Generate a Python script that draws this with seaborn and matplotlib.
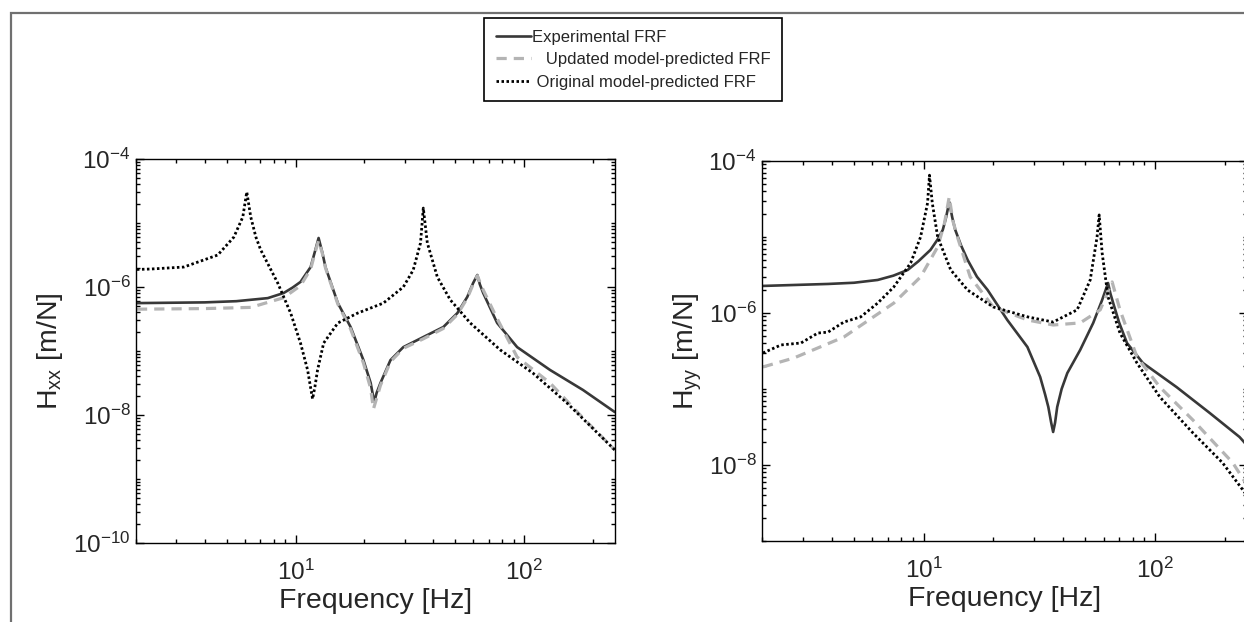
import numpy as np
import pandas as pd
import matplotlib
matplotlib.use("Agg")
import matplotlib.pyplot as plt
import seaborn as sns
from matplotlib.patches import Rectangle
from matplotlib.ticker import FixedLocator, LogLocator, NullFormatter

sns.set_style("ticks")
plt.rcParams['font.family'] = ['Liberation Sans', 'DejaVu Sans']
plt.rcParams['mathtext.default'] = 'regular'
plt.rcParams['axes.unicode_minus'] = False

## H_xx (left panel)
exp_x_f = [2.02, 4.0, 5.5, 7.55, 8.86, 9.7, 10.5, 11.63, 12.2, 12.6, 13.1, 13.5, 15.3, 17.4, 19.8, 21.3, 21.7,
           22.1, 22.6, 23.5, 26.0, 29.6, 36.2, 44.3, 51.0, 56.4, 59.8, 62.4, 64.0, 66.2, 76.2, 93.2, 129.9, 181,
           249.5]
exp_x_h = [5.6e-7, 5.75e-7, 6.0e-7, 6.7e-7, 8.05e-7, 9.8e-7, 1.2e-6, 2.05e-6, 3.8e-6, 5.83e-6, 3.4e-6, 2.05e-6,
           5.6e-7, 2.37e-7, 7.2e-8, 3.16e-8, 2.2e-8, 1.6e-8, 2.2e-8, 3.16e-8, 7.2e-8, 1.15e-7, 1.65e-7, 2.37e-7,
           3.9e-7, 7.0e-7, 1.15e-6, 1.54e-6, 1.1e-6, 8.05e-7, 2.74e-7, 1.15e-7, 5.05e-8, 2.46e-8, 1.11e-8]

upd_x_f = [2.02, 4.0, 6.36, 8.86, 10.5, 11.63, 12.2, 12.6, 13.1, 13.5, 15.3, 17.4, 19.8, 21.3, 21.9, 23.5, 26.0,
           29.6, 36.2, 44.3, 51.0, 56.4, 59.8, 62.4, 66.2, 76.2, 93.2, 129.9, 181, 249.5]
upd_x_h = [4.5e-7, 4.6e-7, 4.8e-7, 6.8e-7, 1.05e-6, 1.9e-6, 3.6e-6, 5.3e-6, 3.3e-6, 2.0e-6, 5.4e-7, 2.2e-7,
           6.5e-8, 2.6e-8, 1.24e-8, 2.9e-8, 6.8e-8, 1.1e-7, 1.55e-7, 2.25e-7, 3.7e-7, 6.7e-7, 1.1e-6, 1.5e-6,
           9.0e-7, 3.2e-7, 8.05e-8, 3.16e-8, 8.98e-9, 2.84e-9]

orig_x_f = [2.02, 2.33, 3.24, 4.56, 5.36, 5.6, 5.87, 6.11, 6.36, 6.7, 7.03, 8.35, 9.51, 10.5, 11.28, 11.6, 11.86,
            12.15, 12.47, 13.26, 15.3, 18.65, 24.2, 29.6, 32.7, 35.2, 36.2, 37.7, 41.7, 47.5, 58.1, 78.6, 109.4,
            154, 249.5]
orig_x_h = [1.88e-6, 1.91e-6, 2.05e-6, 3.16e-6, 6.0e-6, 8.5e-6, 1.24e-5, 3.05e-5, 1.24e-5, 6.0e-6, 3.8e-6,
            1.15e-6, 3.9e-7, 1.33e-7, 5.05e-8, 2.8e-8, 1.78e-8, 2.8e-8, 5.05e-8, 1.33e-7, 2.74e-7, 3.9e-7,
            5.6e-7, 1e-6, 1.84e-6, 4.87e-6, 1.71e-5, 4.87e-6, 1.43e-6, 6.3e-7, 2.74e-7, 1.04e-7, 4.5e-8,
            1.54e-8, 2.84e-9]

## H_yy (right panel)
exp_y_f = [2.02, 3.86, 5.0, 6.33, 7.4, 8.53, 9.5, 10.7, 11.5, 12.1, 12.5, 12.9, 13.3, 13.7, 14.5, 15.5, 17.0,
           18.9, 23.0, 28.1, 31.9, 33.5, 34.6, 35.6, 36.3, 37.0, 37.8, 39.5, 41.8, 47.5, 54.1, 59.1, 62.7, 64.2,
           66.0, 70.0, 75.7, 88.7, 124, 172.6, 232, 249.5]
exp_y_h = [2.27e-6, 2.41e-6, 2.5e-6, 2.72e-6, 3.1e-6, 3.68e-6, 4.8e-6, 6.75e-6, 9.3e-6, 1.24e-5, 1.8e-5, 2.88e-5,
           1.8e-5, 1.24e-5, 7.8e-6, 4.98e-6, 3.0e-6, 2.01e-6, 8.09e-7, 3.57e-7, 1.44e-7, 8.5e-8, 5.8e-8,
           3.6e-8, 2.72e-8, 3.6e-8, 5.8e-8, 1.0e-7, 1.62e-7, 3.26e-7, 7.4e-7, 1.48e-6, 2.48e-6, 1.8e-6,
           1.35e-6, 7.5e-7, 4.03e-7, 2.2e-7, 1.06e-7, 4.83e-8, 2.34e-8, 1.83e-8]

upd_y_f = [2.02, 2.75, 4.52, 7.43, 9.70, 11.5, 12.3, 12.9, 13.4, 14.0, 15.9, 20.0, 28.1, 36.3, 47.5, 58.0, 65.3,
           70.6, 83.6, 105, 146, 217, 249.5]
upd_y_h = [1.95e-7, 2.56e-7, 4.83e-7, 1.35e-6, 2.98e-6, 7.4e-6, 1.5e-5, 3.36e-5, 1.6e-5, 1e-5, 2.98e-6, 1.2e-6,
           8.1e-7, 6.95e-7, 7.4e-7, 1.1e-6, 2.56e-6, 1.1e-6, 2.64e-7, 1.06e-7, 3.9e-8, 1.07e-8, 5.5e-9]

orig_y_f = [2.02, 2.42, 2.95, 3.49, 3.86, 4.52, 5.35, 6.33, 7.43, 8.79, 9.70, 10.4, 10.6, 10.9, 11.5, 13.1,
            15.5, 20.0, 28.1, 36.3, 46.1, 52.5, 56.2, 57.4, 59.1, 62.7, 70.6, 83.6, 105, 146, 196, 249.5]
orig_y_h = [2.98e-7, 3.8e-7, 4.03e-7, 5.45e-7, 5.6e-7, 7.6e-7, 8.9e-7, 1.35e-6, 2.2e-6, 4.55e-6, 1e-5, 2.8e-5,
            6.5e-5, 2.8e-5, 1e-5, 3.68e-6, 2.0e-6, 1.2e-6, 8.9e-7, 7.6e-7, 1.1e-6, 2.72e-6, 1e-5, 1.95e-5,
            6.2e-6, 1.63e-6, 5.45e-7, 2.2e-7, 7.85e-8, 2.64e-8, 1.07e-8, 4.0e-9]

labels = ["Experimental FRF", "   Updated model-predicted FRF", " Original model-predicted FRF"]
styles = [dict(color='#383838', linestyle='-', linewidth=1.9),
          dict(color='#b4b4b4', linestyle=(0, (3.2, 2.2)), linewidth=2.3),
          dict(color='black', linestyle=(0, (0.9, 0.9)), linewidth=2.0)]


def draw(ax, f, h, label, st):
    df = pd.DataFrame({'f': f, 'h': h})
    sns.lineplot(data=df, x='f', y='h', ax=ax, estimator=None, sort=False,
                 legend=False, label=label, **st)


def style_axes(ax, ylim, yticks, ylabel, labelpad):
    ax.set_xscale('log')
    ax.set_yscale('log')
    ax.set_xlim(2, 250)
    ax.set_ylim(*ylim)
    ax.xaxis.set_major_locator(FixedLocator([10, 100]))
    ax.xaxis.set_minor_locator(LogLocator(base=10, subs=np.arange(1, 10), numticks=50))
    ax.xaxis.set_minor_formatter(NullFormatter())
    ax.yaxis.set_major_locator(FixedLocator(yticks))
    ax.yaxis.set_minor_locator(LogLocator(base=10, subs=np.arange(1, 10), numticks=50))
    ax.yaxis.set_minor_formatter(NullFormatter())
    ax.tick_params(which='both', direction='in', top=True, right=True, color='black', width=1)
    ax.tick_params(which='major', length=6, labelsize=17.5)
    ax.tick_params(which='minor', length=3)
    ax.tick_params(axis='x', which='major', pad=12)
    ax.tick_params(axis='y', which='major', pad=4)
    for sp in ax.spines.values():
        sp.set_visible(True)
        sp.set_color('black')
        sp.set_linewidth(1.0)
    ax.set_xlabel('Frequency [Hz]', fontsize=20.5, labelpad=2)
    ax.set_ylabel(ylabel, fontsize=20.5, labelpad=labelpad)
    ax.grid(False)


fig = plt.figure(figsize=(12.44, 6.22), dpi=100)
ax1 = fig.add_axes([0.1093, 0.127, 0.3851, 0.6174])
ax2 = fig.add_axes([0.6125, 0.1302, 0.3899, 0.611])

draw(ax1, exp_x_f, exp_x_h, labels[0], styles[0])
draw(ax1, upd_x_f, upd_x_h, labels[1], styles[1])
draw(ax1, orig_x_f, orig_x_h, labels[2], styles[2])

draw(ax2, exp_y_f, exp_y_h, labels[0], styles[0])
draw(ax2, upd_y_f, upd_y_h, labels[1], styles[1])
draw(ax2, orig_y_f, orig_y_h, labels[2], styles[2])

style_axes(ax1, (1e-10, 1e-4), [1e-10, 1e-8, 1e-6, 1e-4], 'H$_{xx}$ [m/N]', 6)
style_axes(ax2, (1e-9, 1e-4), [1e-8, 1e-6, 1e-4], 'H$_{yy}$ [m/N]', 3)

handles, labs = ax1.get_legend_handles_labels()
leg = fig.legend(handles, labs, loc='upper left', bbox_to_anchor=(484 / 1244, 1 - 18 / 622),
                 fontsize=12, frameon=True, fancybox=False, framealpha=1, edgecolor='black',
                 handlelength=2.1, handletextpad=0.05, labelspacing=0.45, borderpad=0.7,
                 borderaxespad=0)
leg.get_frame().set_linewidth(1.2)

# outer frame of the figure
fig.patches.append(Rectangle((11 / 1244, -0.05), 1.2, 1 - 13 / 622 + 0.05, transform=fig.transFigure,
                             fill=False, edgecolor='#707070', linewidth=1.6))

plt.savefig('out.png', dpi=100)
